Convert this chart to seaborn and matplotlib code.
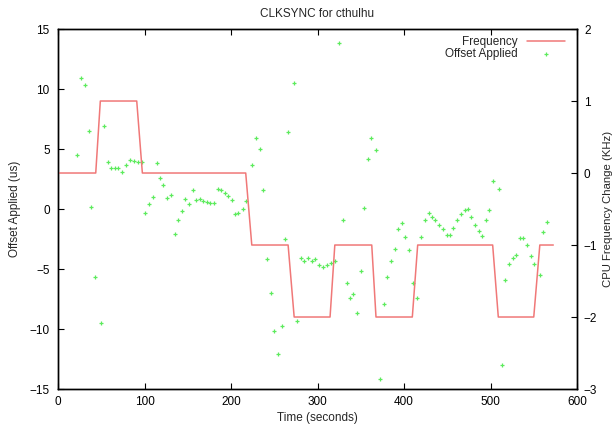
import matplotlib
matplotlib.use("Agg")
import matplotlib.pyplot as plt
import seaborn as sns
import pandas as pd

# Offset Applied (us) samples
time_s = [22.3, 26.2, 30.8, 35.5, 38.5, 43.2, 49.3, 53.2, 57.8, 61.7, 65.5, 69.4, 74.0, 78.6,
          83.2, 87.9, 92.5, 97.1, 101.0, 105.2, 109.8, 114.0, 117.9, 121.8, 126.4, 130.3,
          134.9, 138.7, 143.4, 147.2, 151.4, 155.7, 159.9, 163.7, 168.0, 171.8, 175.7, 180.3,
          185.0, 188.8, 192.7, 196.5, 201.0, 204.6, 208.5, 213.5, 217.3, 224.3, 228.9, 233.5,
          237.4, 242.0, 245.9, 250.0, 254.7, 258.6, 262.4, 266.3, 272.8, 276.7, 280.9, 284.8,
          289.0, 293.1, 297.0, 301.3, 306.7, 311.4, 316.0, 319.9, 324.5, 329.1, 333.8, 337.6,
          341.4, 346.0, 349.9, 354.1, 358.0, 361.8, 367.6, 372.2, 376.9, 380.7, 385.3, 389.2,
          393.0, 397.7, 401.2, 406.2, 410.8, 415.4, 420.0, 423.9, 428.5, 432.4, 436.3, 440.8,
          445.4, 449.3, 453.0, 457.0, 461.6, 465.5, 470.1, 474.0, 477.8, 481.7, 486.3, 490.2,
          494.8, 498.6, 502.9, 509.5, 513.3, 517.1, 521.8, 525.7, 529.5, 534.1, 538.0, 542.6,
          546.5, 550.3, 556.9, 561.1, 565.7]
offset_us = [4.5, 10.9, 10.3, 6.5, 0.17, -5.7, -9.5, 6.9, 3.9, 3.4, 3.4, 3.45, 3.1, 3.7,
             4.05, 4.0, 3.9, 3.9, -0.3, 0.4, 1.0, 3.8, 2.6, 2.0, 0.94, 1.2,
             -2.1, -0.95, -0.2, 0.8, 0.44, 1.55, 0.72, 0.8, 0.67, 0.6, 0.5, 0.5,
             1.65, 1.55, 1.3, 1.1, 0.72, -0.45, -0.35, 0.0, 0.7, 3.7, 5.9, 5.0,
             1.55, -4.2, -7.0, -10.2, -12.1, -9.75, -2.5, 6.4, 10.5, -9.35, -4.05, -4.35,
             -4.05, -4.35, -4.2, -4.7, -4.85, -4.7, -4.5, -4.35, 13.8, -0.95, -6.15, -7.45,
             -7.1, -8.7, -5.2, 0.1, 4.2, 5.95, 4.95, -14.2, -7.9, -5.7, -4.3, -3.3,
             -1.7, -1.15, -2.3, -3.4, -6.15, -7.4, -2.3, -0.95, -0.3, -0.67, -0.95, -1.3,
             -1.7, -2.2, -2.2, -1.55, -0.95, -0.4, -0.1, 0.0, -0.67, -1.3, -1.85, -2.25,
             -0.95, -0.1, 2.3, 1.7, -13.0, -5.9, -4.6, -4.05, -3.8, -2.45, -2.45, -3.0,
             -3.9, -4.6, -5.5, -1.9, -1.05]

# CPU Frequency Change (KHz)
freq_time = [0, 43.6, 48.9, 91, 97.5, 217, 224, 266, 273, 314.5, 320, 362.7, 367.6,
             409.6, 415.8, 502.5, 509, 550, 557, 572.6]
freq_khz = [0, 0, 1, 1, 0, 0, -1, -1, -2, -2, -1, -1, -2, -2, -1, -1, -2, -2, -1, -1]

x_ticks = [0, 100, 200, 300, 400, 500, 600]
y_ticks = [-15, -10, -5, 0, 5, 10, 15]
y2_ticks = [-3, -2, -1, 0, 1, 2]

sns.set_theme(style="white")
plt.rcParams['font.family'] = ['Liberation Sans', 'DejaVu Sans']
plt.rcParams['font.size'] = 8.5

df_off = pd.DataFrame({"t": time_s, "off": offset_us})
df_freq = pd.DataFrame({"t": freq_time, "f": freq_khz})

fig = plt.figure(figsize=(6.16, 4.28), dpi=100)
ax = fig.add_axes([0.0942, 0.0911, 0.8425, 0.8411])
ax2 = ax.twinx()

sns.lineplot(data=df_freq, x="t", y="f", ax=ax2, color="#f07878", linewidth=1.1,
             label="Frequency", legend=False)
sns.scatterplot(data=df_off, x="t", y="off", ax=ax, marker="+", color="#5ceb5c",
                s=10, linewidth=0.9, label="Offset Applied", legend=False)

ax.set_xlim(0, 600)
ax.set_ylim(-15, 15)
ax2.set_ylim(-3, 2)
ax.set_xticks(x_ticks)
ax.set_yticks(y_ticks)
ax2.set_yticks(y2_ticks)

for a in (ax, ax2):
    for s in a.spines.values():
        s.set_color("black")
        s.set_linewidth(1.0)
        s.set_visible(True)

ax.tick_params(axis="x", direction="in", length=4, width=0.8, top=True, bottom=True,
               labelsize=8.5, colors="black", pad=5)
ax.tick_params(axis="y", direction="in", length=4, width=0.8, left=True, right=False,
               labelsize=8.5, colors="black", pad=6)
ax2.tick_params(axis="y", direction="in", length=4, width=0.8, right=True, left=False,
                labelsize=8.5, colors="black", pad=5)

ax.set_xlabel("Time (seconds)", fontsize=8.5, labelpad=3)
ax.set_ylabel("Offset Applied (us)", fontsize=8.5, labelpad=6)
ax2.set_ylabel("CPU Frequency Change (KHz)", fontsize=8.2, labelpad=4)
ax.set_title("CLKSYNC for cthulhu", fontsize=8.5, pad=9)

h1, l1 = ax2.get_legend_handles_labels()
h2, l2 = ax.get_legend_handles_labels()
leg = ax2.legend(h1 + h2, l1 + l2, loc="upper right", frameon=False, markerfirst=False,
                 fontsize=8.5, handlelength=3.2, handletextpad=0.8, labelspacing=0.0,
                 borderaxespad=0.2, bbox_to_anchor=(0.99, 1.0))

fig.savefig("out.png", dpi=100)
